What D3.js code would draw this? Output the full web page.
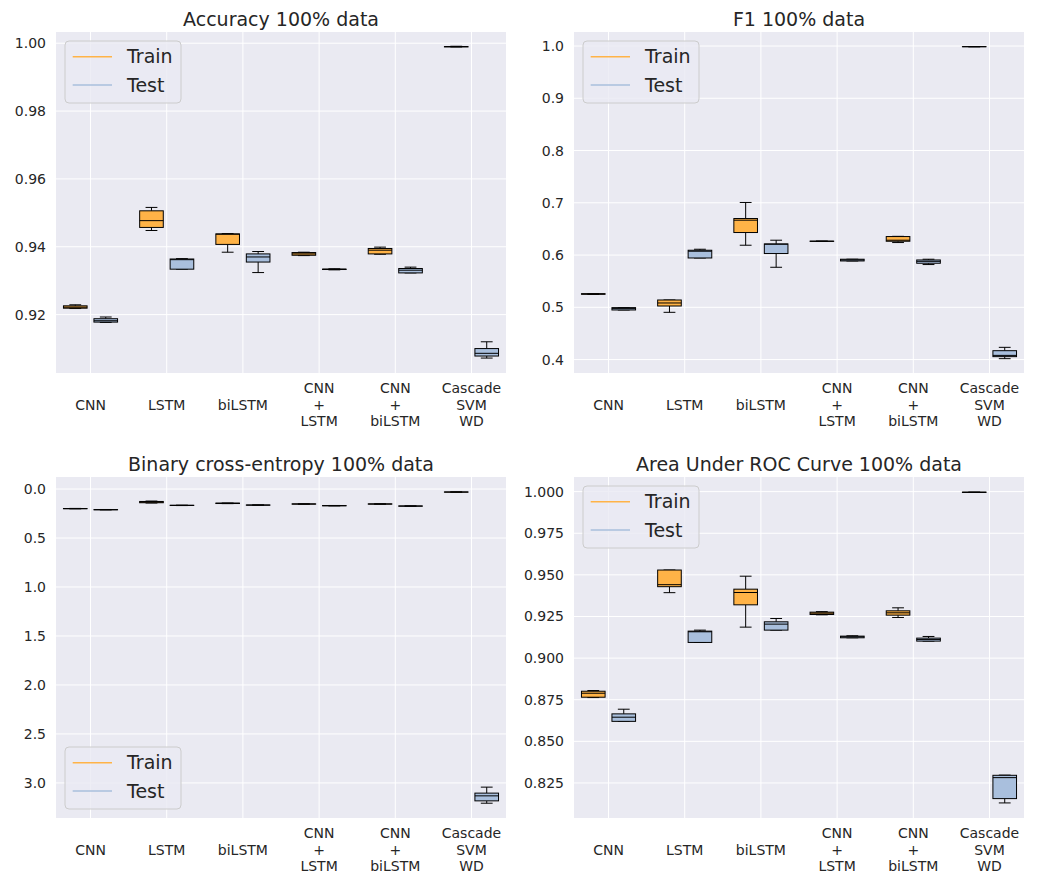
<!DOCTYPE html>
<html>
<head>
<meta charset="utf-8">
<script src="https://cdn.jsdelivr.net/npm/d3@7"></script>
<style>
  body { margin: 0; background: #fff; }
  svg { display: block; font-family: "DejaVu Sans", sans-serif; }
</style>
</head>
<body>
<div id="vis"></div>
<script>
const WIDTH = 1037;
const HEIGHT = 874;

const MODELS = ["CNN", "LSTM", "biLSTM", "CNN\n+\nLSTM", "CNN\n+\nbiLSTM", "Cascade\nSVM\nWD"];

// five-number summaries per model: [min, q1, median, q3, max]
const accTrain = [
  [0.9218, 0.9219, 0.9222, 0.9226, 0.9229],
  [0.9448, 0.9457, 0.9477, 0.9506, 0.9516],
  [0.9384, 0.9407, 0.9437, 0.9438, 0.9439],
  [0.9374, 0.9375, 0.9379, 0.9383, 0.9384],
  [0.9378, 0.9379, 0.9390, 0.9395, 0.9399],
  [0.9989, 0.9989, 0.9990, 0.9990, 0.9991],
];
const accTest = [
  [0.9177, 0.9178, 0.9182, 0.9188, 0.9193],
  [0.9334, 0.9334, 0.9362, 0.9364, 0.9365],
  [0.9324, 0.9355, 0.9370, 0.9379, 0.9386],
  [0.9332, 0.9333, 0.9334, 0.9334, 0.9335],
  [0.9323, 0.9323, 0.9331, 0.9336, 0.9340],
  [0.9072, 0.9078, 0.9086, 0.9100, 0.9120],
];

const f1Train = [
  [0.5245, 0.5250, 0.5255, 0.5260, 0.5262],
  [0.4904, 0.5025, 0.5083, 0.5140, 0.5140],
  [0.6188, 0.6431, 0.6667, 0.6699, 0.7006],
  [0.6260, 0.6262, 0.6264, 0.6266, 0.6268],
  [0.6239, 0.6264, 0.6284, 0.6354, 0.6358],
  [0.9985, 0.9986, 0.9987, 0.9988, 0.9989],
];
const f1Test = [
  [0.4949, 0.4949, 0.4975, 0.4994, 0.4994],
  [0.5944, 0.5944, 0.6073, 0.6092, 0.6111],
  [0.5766, 0.6029, 0.6207, 0.6213, 0.6284],
  [0.5887, 0.5887, 0.5905, 0.5920, 0.5920],
  [0.5818, 0.5843, 0.5880, 0.5906, 0.5920],
  [0.4017, 0.4056, 0.4080, 0.4170, 0.4234],
];

const bceTrain = [
  [0.198, 0.199, 0.200, 0.201, 0.202],
  [0.123, 0.127, 0.133, 0.140, 0.143],
  [0.143, 0.144, 0.146, 0.148, 0.149],
  [0.151, 0.152, 0.153, 0.154, 0.155],
  [0.151, 0.152, 0.153, 0.154, 0.155],
  [0.029, 0.030, 0.031, 0.032, 0.033],
];
const bceTest = [
  [0.209, 0.210, 0.211, 0.212, 0.213],
  [0.165, 0.166, 0.167, 0.168, 0.169],
  [0.162, 0.163, 0.164, 0.165, 0.166],
  [0.168, 0.169, 0.170, 0.171, 0.172],
  [0.172, 0.173, 0.174, 0.175, 0.176],
  [3.043, 3.104, 3.132, 3.183, 3.207],
];

const aucTrain = [
  [0.8763, 0.8765, 0.8789, 0.8801, 0.8805],
  [0.9393, 0.9429, 0.9441, 0.9529, 0.9529],
  [0.9186, 0.9320, 0.9394, 0.9414, 0.9492],
  [0.9260, 0.9262, 0.9270, 0.9276, 0.9279],
  [0.9244, 0.9258, 0.9272, 0.9284, 0.9302],
  [0.9995, 0.9995, 0.9996, 0.9997, 0.9997],
];
const aucTest = [
  [0.8620, 0.8620, 0.8645, 0.8665, 0.8693],
  [0.9094, 0.9094, 0.9158, 0.9162, 0.9168],
  [0.9168, 0.9168, 0.9204, 0.9218, 0.9238],
  [0.9122, 0.9122, 0.9128, 0.9132, 0.9134],
  [0.9102, 0.9102, 0.9112, 0.9120, 0.9130],
  [0.8130, 0.8156, 0.8282, 0.8296, 0.8297],
];

const accTicks = [0.92, 0.94, 0.96, 0.98, 1.00];
const f1Ticks = [0.4, 0.5, 0.6, 0.7, 0.8, 0.9, 1.0];
const bceTicks = [0.0, 0.5, 1.0, 1.5, 2.0, 2.5, 3.0];
const aucTicks = [0.825, 0.850, 0.875, 0.900, 0.925, 0.950, 0.975, 1.000];

const TRAIN_COLOR = "#ffb347";
const TEST_COLOR = "#a9bfdd";
const BG = "#eaeaf2";
const TEXT = "#262626";

const panels = [
  { title: "Accuracy 100% data", train: accTrain, test: accTest, ticks: accTicks, fmt: ".2f",
    domain: [0.9028, 1.0033], x: 56, y: 32, legend: "top" },
  { title: "F1 100% data", train: f1Train, test: f1Test, ticks: f1Ticks, fmt: ".1f",
    domain: [0.3743, 1.0268], x: 574, y: 32, legend: "top" },
  { title: "Binary cross-entropy 100% data", train: bceTrain, test: bceTest, ticks: bceTicks, fmt: ".1f",
    domain: [3.358, -0.1227], x: 56, y: 477, legend: "bottom" },
  { title: "Area Under ROC Curve 100% data", train: aucTrain, test: aucTest, ticks: aucTicks, fmt: ".3f",
    domain: [0.80395, 1.00878], x: 574, y: 477, legend: "top" },
];

const PW = 450;
const PH = 341;

const svg = d3.select("#vis").append("svg")
  .attr("width", WIDTH)
  .attr("height", HEIGHT);

panels.forEach(p => {
  const g = svg.append("g").attr("transform", `translate(${p.x},${p.y})`);

  const x = d3.scalePoint().domain(d3.range(MODELS.length)).range([0, PW]).padding(0.453);
  const y = d3.scaleLinear().domain(p.domain).range([PH, 0]);
  const step = x.step();
  const off = step * 0.2;
  const bw = step * 0.31;

  g.append("rect").attr("width", PW).attr("height", PH).attr("fill", BG);

  // grid
  g.selectAll(".hg").data(p.ticks).join("line")
    .attr("x1", 0).attr("x2", PW)
    .attr("y1", d => y(d)).attr("y2", d => y(d))
    .attr("stroke", "#fff").attr("stroke-width", 1);
  g.selectAll(".vg").data(d3.range(MODELS.length)).join("line")
    .attr("x1", d => x(d)).attr("x2", d => x(d))
    .attr("y1", 0).attr("y2", PH)
    .attr("stroke", "#fff").attr("stroke-width", 1);

  // y axis labels
  const yAxis = d3.axisLeft(y).tickValues(p.ticks).tickFormat(d3.format(p.fmt)).tickSize(0).tickPadding(10);
  const ya = g.append("g").call(yAxis);
  ya.select(".domain").remove();
  ya.selectAll("text").attr("fill", TEXT).style("font-size", "14px")
    .style("font-family", "'DejaVu Sans', sans-serif");

  // x labels (multi-line, centred vertically)
  MODELS.forEach((m, i) => {
    const lines = m.split("\n");
    const t = g.append("text")
      .attr("x", x(i))
      .attr("text-anchor", "middle")
      .attr("fill", TEXT)
      .style("font-size", "14px");
    lines.forEach((l, j) => {
      t.append("tspan")
        .attr("x", x(i))
        .attr("y", PH + 32 + (j - (lines.length - 1) / 2) * 16.5)
        .attr("dy", "0.35em")
        .text(l);
    });
  });

  // boxes
  const drawBoxes = (data, dx, color) => {
    data.forEach((s, i) => {
      const cx = x(i) + dx;
      const [mn, q1, md, q3, mx] = s;
      const bg = g.append("g");
      bg.append("line")
        .attr("x1", cx).attr("x2", cx).attr("y1", y(mn)).attr("y2", y(q1))
        .attr("stroke", "#000").attr("stroke-width", 1);
      bg.append("line")
        .attr("x1", cx).attr("x2", cx).attr("y1", y(q3)).attr("y2", y(mx))
        .attr("stroke", "#000").attr("stroke-width", 1);
      [mn, mx].forEach(v => {
        bg.append("line")
          .attr("x1", cx - bw / 4).attr("x2", cx + bw / 4)
          .attr("y1", y(v)).attr("y2", y(v))
          .attr("stroke", "#000").attr("stroke-width", 1);
      });
      const top = Math.min(y(q1), y(q3));
      const h = Math.abs(y(q1) - y(q3));
      bg.append("rect")
        .attr("x", cx - bw / 2).attr("y", top)
        .attr("width", bw).attr("height", h)
        .attr("fill", color).attr("stroke", "#000").attr("stroke-width", 1);
      bg.append("line")
        .attr("x1", cx - bw / 2).attr("x2", cx + bw / 2)
        .attr("y1", y(md)).attr("y2", y(md))
        .attr("stroke", "#000").attr("stroke-width", 1);
    });
  };
  drawBoxes(p.train, -off, TRAIN_COLOR);
  drawBoxes(p.test, off, TEST_COLOR);

  // title
  g.append("text")
    .attr("x", PW / 2).attr("y", -6)
    .attr("text-anchor", "middle")
    .attr("fill", TEXT)
    .style("font-size", "19px")
    .text(p.title);

  // legend
  const ly = p.legend === "top" ? 9 : PH - 9 - 62;
  const lg = g.append("g").attr("transform", `translate(9,${ly})`);
  lg.append("rect")
    .attr("width", 116).attr("height", 62).attr("rx", 4)
    .attr("fill", BG).attr("fill-opacity", 0.8)
    .attr("stroke", "#cccccc").attr("stroke-width", 1);
  [["Train", TRAIN_COLOR], ["Test", TEST_COLOR]].forEach(([name, c], i) => {
    const yy = 15.7 + i * 28.3;
    lg.append("line")
      .attr("x1", 7.7).attr("x2", 47).attr("y1", yy).attr("y2", yy)
      .attr("stroke", c).attr("stroke-width", 1.5);
    lg.append("text")
      .attr("x", 62).attr("y", yy).attr("dy", "0.35em")
      .attr("fill", TEXT)
      .style("font-size", "19px")
      .text(name);
  });
});
</script>
</body>
</html>
